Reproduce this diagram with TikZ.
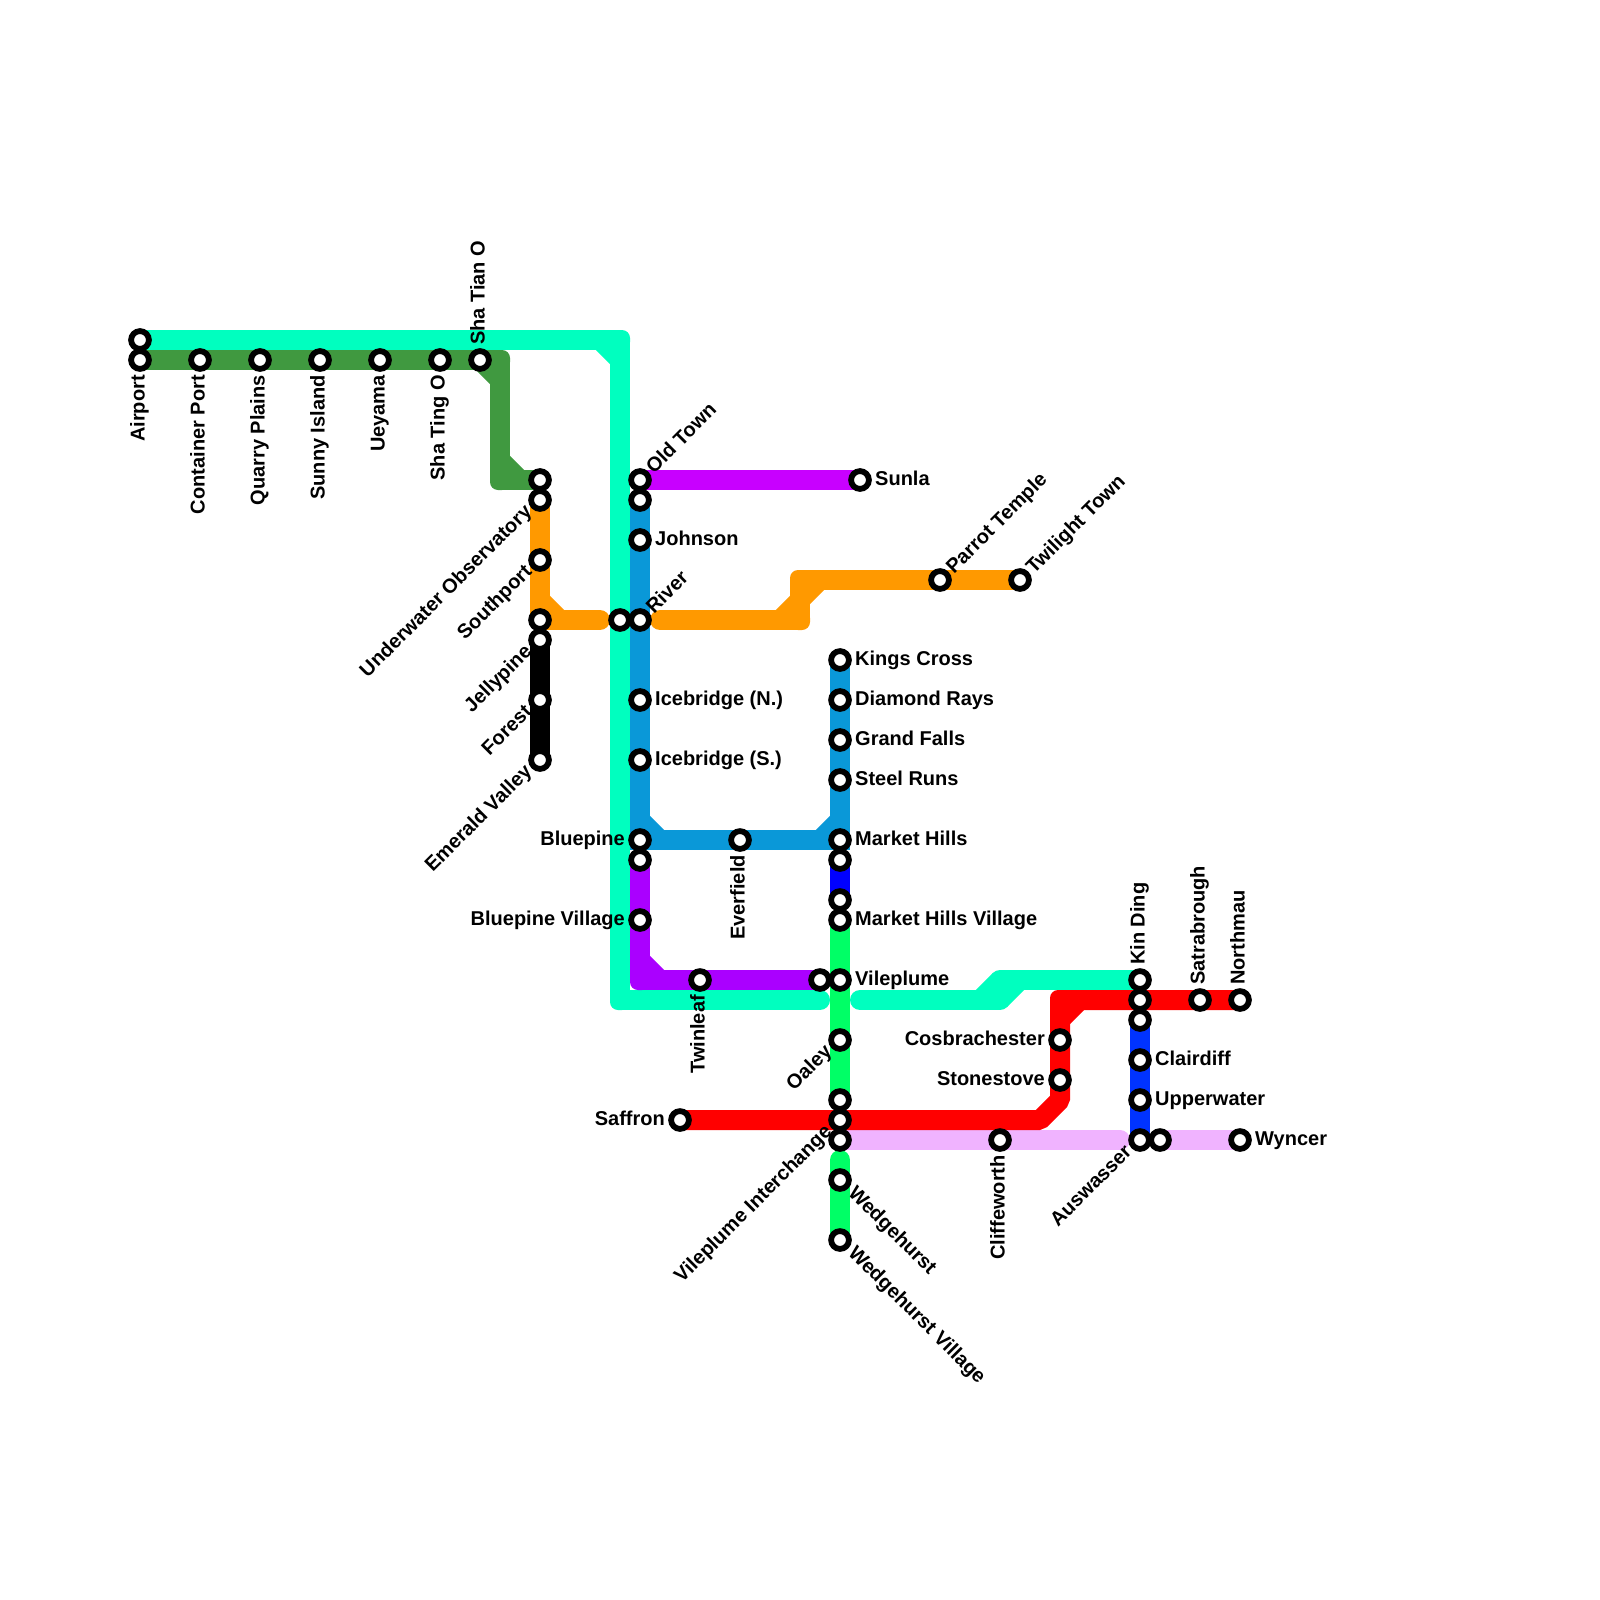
\documentclass[tikz,border=0pt]{standalone}
\usepackage{fontspec}
\setmainfont{Liberation Sans}
\pgfdeclarelayer{lines}
\pgfsetlayers{lines,main}
\definecolor{cTeal}{HTML}{00FFBF}
\definecolor{cForest}{HTML}{409940}
\definecolor{cOrange}{HTML}{FF9900}
\definecolor{cSky}{HTML}{0A98D8}
\definecolor{cMagenta}{HTML}{C800FF}
\definecolor{cViolet}{HTML}{AA00FF}
\definecolor{cRed}{HTML}{FF0000}
\definecolor{cNavy}{HTML}{0000FF}
\definecolor{cBlue}{HTML}{0033FF}
\definecolor{cGreen}{HTML}{00FF66}
\definecolor{cLilac}{HTML}{F0B3FF}
\tikzset{
  x=1pt,y=-1pt,
  stn/.style={circle,draw=black,fill=white,line width=5.8pt,outer sep=0pt,minimum size=17.8pt,inner sep=0pt},
  lbl/.style={font=\bfseries\fontsize{20}{22}\selectfont,inner sep=0pt,text=black},
  lR/.style={lbl,xshift=15pt,yshift=-3pt,anchor=mid west},
  lL/.style={lbl,xshift=-15pt,yshift=-3pt,anchor=mid east},
  lU/.style={lbl,xshift=2pt,yshift=15pt,rotate=90,anchor=mid west},
  lD/.style={lbl,xshift=2pt,yshift=-15pt,rotate=90,anchor=mid east},
  lUR/.style={lbl,xshift=12pt,yshift=7pt,rotate=45,anchor=mid west},
  lDL/.style={lbl,xshift=-9pt,yshift=-11pt,rotate=45,anchor=mid east},
  lDR/.style={lbl,xshift=9pt,yshift=-12pt,rotate=-45,anchor=mid west},
  metro/.style={line width=20pt,line cap=round,line join=round,draw=#1},
  chamfer/.style={line width=20pt,line cap=butt,draw=#1},
}
% station with label
\newcommand\stL[5]{\node[stn] (#1) at (#2,#3) {}; \node[#4] (t#1) at (#1.center) {#5};}
% station without label
\newcommand\stN[3]{\node[stn] (#1) at (#2,#3) {};}
% square join with a slightly rounded outer corner
\newcommand\joint[2]{\fill[#1,rounded corners=8pt] ([xshift=-10pt,yshift=-10pt]#2) rectangle ([xshift=10pt,yshift=10pt]#2);}
\begin{document}
\begin{tikzpicture}
\useasboundingbox (0,0) rectangle (1600,1600);
% stations
\stN{tealA}{140}{340}
\stL{airport}{140}{360}{lD}{Airport}
\stL{container}{200}{360}{lD}{Container Port}
\stL{quarry}{260}{360}{lD}{Quarry Plains}
\stL{sunny}{320}{360}{lD}{Sunny Island}
\stL{ueyama}{380}{360}{lD}{Ueyama}
\stL{shating}{440}{360}{lD}{Sha Ting O}
\stL{shatian}{480}{360}{lU}{Sha Tian O}
\stN{greenEnd}{540}{480}
\stL{underwater}{540}{500}{lDL}{Underwater Observatory}
\stL{southport}{540}{560}{lDL}{Southport}
\stN{orangeMid}{540}{620}
\stL{jellypine}{540}{640}{lDL}{Jellypine}
\stL{forest}{540}{700}{lDL}{Forest}
\stL{emerald}{540}{760}{lDL}{Emerald Valley}
\stN{tealO}{620}{620}
\stL{oldtown}{640}{480}{lUR}{Old Town}
\stN{skyTop}{640}{500}
\stL{johnson}{640}{540}{lR}{Johnson}
\stL{river}{640}{620}{lUR}{River}
\stL{icen}{640}{700}{lR}{Icebridge (N.)}
\stL{ices}{640}{760}{lR}{Icebridge (S.)}
\stL{bluepine}{640}{840}{lL}{Bluepine}
\stN{violetTop}{640}{860}
\stL{bpvillage}{640}{920}{lL}{Bluepine Village}
\stL{twinleaf}{700}{980}{lD}{Twinleaf}
\stN{violetEnd}{820}{980}
\stL{everfield}{740}{840}{lD}{Everfield}
\stL{sunla}{860}{480}{lR}{Sunla}
\stL{parrot}{940}{580}{lUR}{Parrot Temple}
\stL{twilight}{1020}{580}{lUR}{Twilight Town}
\stL{kings}{840}{660}{lR}{Kings Cross}
\stL{diamond}{840}{700}{lR}{Diamond Rays}
\stL{grand}{840}{740}{lR}{Grand Falls}
\stL{steel}{840}{780}{lR}{Steel Runs}
\stL{market}{840}{840}{lR}{Market Hills}
\stN{navyTop}{840}{860}
\stN{navyEnd}{840}{900}
\stL{mhvillage}{840}{920}{lR}{Market Hills Village}
\stL{vileplume}{840}{980}{lR}{Vileplume}
\stL{oaley}{840}{1040}{lDL}{Oaley}
\stN{greenLow}{840}{1100}
\stL{interchange}{840}{1120}{lDL}{Vileplume Interchange}
\stN{lilacA}{840}{1140}
\stL{wedgehurst}{840}{1180}{lDR}{Wedgehurst}
\stL{wvillage}{840}{1240}{lDR}{Wedgehurst Village}
\stL{saffron}{680}{1120}{lL}{Saffron}
\stL{cliffeworth}{1000}{1140}{lD}{Cliffeworth}
\stL{cosbra}{1060}{1040}{lL}{Cosbrachester}
\stL{stonestove}{1060}{1080}{lL}{Stonestove}
\stL{kinding}{1140}{980}{lU}{Kin Ding}
\stN{redB}{1140}{1000}
\stN{blueTop}{1140}{1020}
\stL{clairdiff}{1140}{1060}{lR}{Clairdiff}
\stL{upperwater}{1140}{1100}{lR}{Upperwater}
\stL{auswasser}{1140}{1140}{lDL}{Auswasser}
\stN{lilacB}{1160}{1140}
\stL{satra}{1200}{1000}{lU}{Satrabrough}
\stL{northmau}{1240}{1000}{lU}{Northmau}
\stL{wyncer}{1240}{1140}{lR}{Wyncer}
% bends and free ends
\coordinate (tA) at (620,340); \coordinate (tA1) at (600,340); \coordinate (tA2) at (620,360);
\coordinate (tB) at (620,1000); \coordinate (tEnd) at (820,1000);
\coordinate (tStart) at (860,1000); \coordinate (tC) at (1000,1000); \coordinate (tD) at (1000,980);
\coordinate (tC1) at (980,1000); \coordinate (tC2) at (1020,980);
\coordinate (gA) at (500,360); \coordinate (gA2) at (500,380);
\coordinate (gB) at (500,480); \coordinate (gB1) at (500,460); \coordinate (gB2) at (520,480);
\coordinate (oA) at (540,620); \coordinate (oA1) at (540,600); \coordinate (oA2) at (560,620);
\coordinate (oEnd) at (600,620); \coordinate (oStart) at (660,620);
\coordinate (oB) at (800,620); \coordinate (oC) at (800,580); \coordinate (oB1) at (780,620); \coordinate (oC2) at (820,580);
\coordinate (sA) at (640,820); \coordinate (sA2) at (660,840); \coordinate (sB1) at (820,840); \coordinate (sB2) at (840,820);
\coordinate (vA) at (640,980); \coordinate (vA1) at (640,960); \coordinate (vA2) at (660,980);
\coordinate (grEnd) at (840,1160);
\coordinate (rA) at (1040,1120); \coordinate (rB) at (1060,1100); \coordinate (rC) at (1060,1000);
\coordinate (rC1) at (1060,1020); \coordinate (rC2) at (1080,1000);
\coordinate (lEnd) at (1120,1140);
\begin{pgfonlayer}{lines}
\fill[white] (0,0) rectangle (1600,1600);
% teal
\draw[metro=cTeal,line join=bevel] (tealA.center) -- (tA) -- (tB) -- (tEnd);
\draw[chamfer=cTeal] (tA1) -- (tA2);
\joint{cTeal}{tA} \joint{cTeal}{tB}
\draw[metro=cTeal] (tStart) -- (tC) -- (tD) -- (kinding.center);
\draw[chamfer=cTeal] (tC1) -- (tD);
\draw[chamfer=cTeal] (tC) -- (tC2);
% forest green
\draw[metro=cForest,line join=bevel] (airport.center) -- (gA) -- (gB) -- (greenEnd.center);
\draw[chamfer=cForest] (shatian.center) -- (gA2);
\draw[chamfer=cForest] (gB1) -- (gB2);
\joint{cForest}{gA} \joint{cForest}{gB}
% orange
\draw[metro=cOrange,line join=bevel] (underwater.center) -- (oA) -- (oEnd);
\draw[chamfer=cOrange] (oA1) -- (oA2);
\joint{cOrange}{oA}
\draw[metro=cOrange,line join=bevel] (oStart) -- (oB) -- (oC) -- (twilight.center);
\draw[chamfer=cOrange] (oB1) -- (oC2);
\joint{cOrange}{oB} \joint{cOrange}{oC}
% black
\draw[metro=black] (jellypine.center) -- (emerald.center);
% magenta
\draw[metro=cMagenta] (oldtown.center) -- (sunla.center);
% sky blue
\draw[metro=cSky,line join=miter] (skyTop.center) -- (bluepine.center) -- (market.center) -- (kings.center);
\draw[chamfer=cSky] (sA) -- (sA2);
\draw[chamfer=cSky] (sB1) -- (sB2);
% violet
\draw[metro=cViolet,line join=bevel] (violetTop.center) -- (vA) -- (violetEnd.center);
\draw[chamfer=cViolet] (vA1) -- (vA2);
\joint{cViolet}{vA}
% navy
\draw[metro=cNavy] (navyTop.center) -- (navyEnd.center);
% green
\draw[metro=cGreen] (mhvillage.center) -- (greenLow.center);
\draw[metro=cGreen] (grEnd) -- (wvillage.center);
% lilac
\draw[metro=cLilac] (lilacA.center) -- (lEnd);
\draw[metro=cLilac] (lilacB.center) -- (wyncer.center);
% red
\draw[metro=cRed,line join=bevel] (saffron.center) -- (rA) -- (rB) -- (rC) -- (northmau.center);
\draw[chamfer=cRed] (rC1) -- (rC2);
\joint{cRed}{rC}
% blue
\draw[metro=cBlue] (blueTop.center) -- (auswasser.center);
\end{pgfonlayer}
\end{tikzpicture}
\end{document}
